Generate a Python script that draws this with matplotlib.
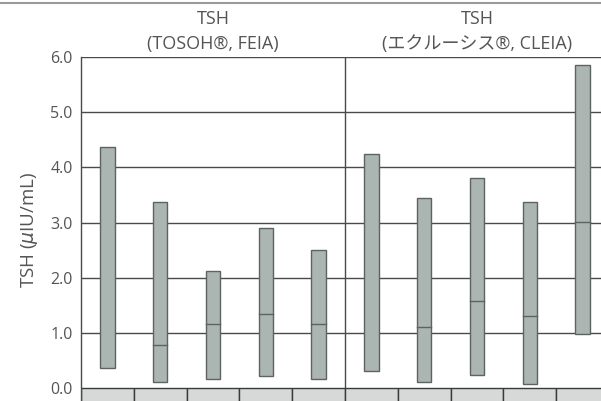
import numpy as np
import matplotlib
matplotlib.use("Agg")
import matplotlib.pyplot as plt
from matplotlib.patches import Rectangle
from matplotlib.lines import Line2D

plt.rcParams['font.family'] = ['Open Sans', 'Noto Sans CJK JP', 'DejaVu Sans']

# Data (TSH reference ranges, µIU/mL)
panel_titles = ["TSH\n(TOSOH®, FEIA)", "TSH\n(エクルーシス®, CLEIA)"]
left_low = [0.36, 0.11, 0.16, 0.22, 0.16]
left_median = [np.nan, 0.78, 1.16, 1.34, 1.16]
left_high = [4.36, 3.38, 2.13, 2.90, 2.51]
right_low = [0.30, 0.10, 0.23, 0.07, 0.97]
right_median = [np.nan, 1.10, 1.58, 1.30, 3.01]
right_high = [4.25, 3.44, 3.80, 3.37, 5.85]
y_ticks = [0.0, 1.0, 2.0, 3.0, 4.0, 5.0, 6.0]
y_label = r"TSH ($\mu$IU/mL)"

fig = plt.figure(figsize=(6.01, 4.01), dpi=100)
ax = fig.add_axes([81/601, -0.002, 528/601, 344.8/401])
ax.set_xlim(0, 10)
ax.set_ylim(-0.25, 6.0)

txt = '#555555'
grid_c = '#4a4a4a'
bar_face = '#abb5b1'
bar_edge = '#5c6360'

for s in ['top', 'right', 'bottom']:
    ax.spines[s].set_visible(False)
ax.spines['left'].set_color(grid_c)
ax.spines['left'].set_linewidth(1.0)

for y in y_ticks[1:]:
    ax.axhline(y, color=grid_c, lw=1.0, zorder=1)
ax.axvline(5, ymin=0, ymax=1, color=grid_c, lw=1.0, zorder=1)

ax.set_yticks(y_ticks)
ax.set_yticklabels([f"{v:.1f}" for v in y_ticks])
ax.tick_params(axis='y', length=0, pad=6, labelsize=11.5, labelcolor=txt)
ax.set_xticks([])
ax.set_ylabel(y_label, fontsize=13.5, color=txt, labelpad=3)
ax.yaxis.set_label_coords(-0.077, 0.5)

bw = 0.27
lows = left_low + right_low
meds = left_median + right_median
highs = left_high + right_high
for i, (lo, md, hi) in enumerate(zip(lows, meds, highs)):
    xc = i + 0.5
    ax.bar(xc, hi - lo, bottom=lo, width=bw, color=bar_face,
           edgecolor=bar_edge, linewidth=1.0, zorder=3)
    if not np.isnan(md):
        ax.plot([xc - bw/2, xc + bw/2], [md, md], color=bar_edge, lw=1.0, zorder=4)

# bottom category cells
for i in range(10):
    ax.add_patch(Rectangle((i, -0.25), 1, 0.25, facecolor='#d6d9d7',
                           edgecolor='#3a3a3a', lw=1.0, zorder=2))

# panel titles
for k, t in enumerate(panel_titles):
    ax.text(2.5 + 5*k, 6.07, t, ha='center', va='bottom', fontsize=13,
            color=txt, linespacing=1.5)

fig.add_artist(Line2D([0, 1], [1 - 3/401, 1 - 3/401], color='#9a9a9a', lw=1.5))

fig.savefig("out.png", dpi=100)
